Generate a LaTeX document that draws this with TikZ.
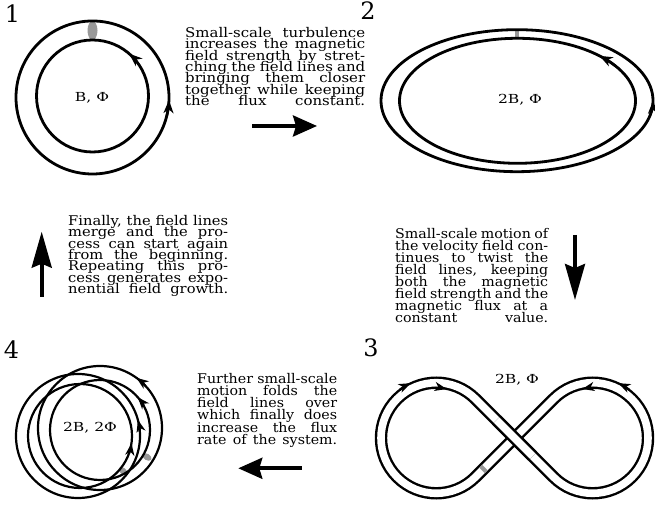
\documentclass[tikz,border=0pt]{standalone}
\usepackage{fontspec}
\setmainfont{DejaVu Serif}
\newfontfamily\fieldfont[FakeStretch=1.25]{DejaVu Serif}
\newfontfamily\storyfontwide[FakeStretch=1.12]{DejaVu Serif}
\newfontfamily\storyfontmid[FakeStretch=1.10]{DejaVu Serif}
\newfontfamily\storyfontnarrow[FakeStretch=1.065]{DejaVu Serif}
\usetikzlibrary{arrows.meta}
% justified text blocks, one hbox per printed line
\newcommand\storyblock[3]{\vbox{\hsize=#1\relax\baselineskip=#2\lineskiplimit=-100bp\lineskip=0bp #3}}
\newcommand\jl[1]{\hbox to\hsize{#1}}
\begin{document}
\begin{tikzpicture}[x=1bp,y=1bp,
  loopline/.style={line width=2.8bp},
  foldline/.style={line width=2.2bp},
  headtip/.style={line width=2.4bp,-{Stealth[length=13bp,width=10bp,inset=4bp]}},
  smalltip/.style={line width=2.2bp,-{Stealth[length=12bp,width=9bp,inset=3.5bp]}},
  stephoriz/.style={line width=3.6bp,-{Stealth[length=24bp,width=21bp,inset=3bp]}},
  stepvert/.style={line width=3.6bp,-{Stealth[length=36bp,width=20bp,inset=4bp]}},
  panelnum/.style={font=\fontsize{24}{24}\selectfont,inner sep=0bp},
  fieldlabel/.style={font=\fieldfont\fontsize{12.5}{12.5}\selectfont,inner sep=0bp},
  storytext/.style={inner sep=0bp,anchor=north west},
  graymark/.style={fill=black!40},
  fluxtube/.style={line width=2.4bp,double=white,double distance=7.6bp},
]
\useasboundingbox (0,0) rectangle (655,506);

% ---------- 1: closed flux ring ----------
\fill[graymark] (92.5,475.5) ellipse[x radius=5bp,y radius=9.5bp];
\draw[loopline] (92.5,408.5) circle[radius=76.5bp];
\draw[loopline] (92.5,410) circle[radius=56bp];
\draw[headtip] (92.5,410) ++(37:56bp) arc[start angle=37,end angle=49,radius=56bp];
\draw[headtip] (92.5,408.5) ++(-14:76.5bp) arc[start angle=-14,end angle=-2,radius=76.5bp];
\node[fieldlabel] (f1) at (92,408) {B, Φ};
\node[panelnum] (n1) at (12.5,492.5) {1};

% ---------- 2: stretched ring ----------
\fill[graymark] (515,467.5) rectangle (519,476.5);
\draw[loopline] (517,405.3) ellipse[x radius=136bp,y radius=71bp];
\draw[loopline] (517.5,405.2) ellipse[x radius=118bp,y radius=62.5bp];
\draw[headtip] (517.5,405.2) ++(34:118bp and 62.5bp) arc[start angle=34,end angle=46,x radius=118bp,y radius=62.5bp];
\draw[headtip] (517,405.3) ++(-12:136bp and 71bp) arc[start angle=-12,end angle=0,x radius=136bp,y radius=71bp];
\node[fieldlabel] (f2) at (520,406) {2B, Φ};
\node[panelnum] (n2) at (368,495) {2};

% ---------- 3: twisted figure eight ----------
\coordinate (lc) at (436.3,68);
\coordinate (rc) at (592.7,68);
\draw[fluxtube] (475.4,107.1) arc[start angle=45,end angle=315,radius=55.3bp]
  -- (553.6,107.1) arc[start angle=135,end angle=-135,radius=55.3bp] -- cycle;
% strand passing over at the crossing
\draw[fluxtube] (496.5,86) -- (532.5,50);
\fill[graymark,rotate around={45:(483.5,37)}] (481.5,33.2) rectangle (485.5,40.8);
\draw[smalltip] (lc) ++(127:60.5bp) arc[start angle=127,end angle=115,radius=60.5bp];
\draw[smalltip] (lc) ++(92:50.1bp) arc[start angle=92,end angle=78,radius=50.1bp];
\draw[smalltip] (rc) ++(53:60.5bp) arc[start angle=53,end angle=65,radius=60.5bp];
\draw[smalltip] (rc) ++(88:50.1bp) arc[start angle=88,end angle=102,radius=50.1bp];
\node[fieldlabel] (f3) at (517,126) {2B, Φ};
\node[panelnum] (n3) at (371,158) {3};

% ---------- 4: folded ring, two overlapping tubes ----------
\fill[graymark,rotate around={-39:(123,35)}] (123,35) ellipse[x radius=5bp,y radius=3.2bp];
\fill[graymark,rotate around={-31:(147,49)}] (147,49) ellipse[x radius=5bp,y radius=3.2bp];
\draw[foldline] (78,70) circle[radius=62bp];
\draw[foldline] (80,70) circle[radius=52bp];
\draw[foldline] (100,78) circle[radius=62bp];
\draw[foldline] (100,76) circle[radius=50bp];
\draw[smalltip] (80,70) ++(-20:52bp) arc[start angle=-20,end angle=-8,radius=52bp];
\draw[smalltip] (78,70) ++(4:62bp) arc[start angle=4,end angle=15,radius=62bp];
\draw[smalltip] (100,76) ++(29:50bp) arc[start angle=29,end angle=41,radius=50bp];
\draw[smalltip] (100,78) ++(43:62bp) arc[start angle=43,end angle=54,radius=62bp];
\node[fieldlabel] (f4) at (90,78) {2B, 2Φ};
\node[panelnum] (n4) at (11.5,156) {4};

% ---------- step arrows ----------
\coordinate (a12s) at (252,380);   \coordinate (a12e) at (317,380);
\coordinate (a23s) at (575,271);   \coordinate (a23e) at (575,206);
\coordinate (a34s) at (301.7,37.7); \coordinate (a34e) at (238.3,37.7);
\coordinate (a41s) at (41.7,209.3); \coordinate (a41e) at (41.7,274.3);
\draw[stephoriz] (a12s) -- (a12e);
\draw[stepvert] (a23s) -- (a23e);
\draw[stephoriz] (a34s) -- (a34e);
\draw[stepvert] (a41s) -- (a41e);

% ---------- explanations ----------
\node[storytext,font=\storyfontwide\fontsize{13.4}{11.5}\selectfont] (t12) at (185,479) {\storyblock{180bp}{11.4bp}{%
  \jl{Small-scale turbulence}
  \jl{increases the magnetic}
  \jl{field strength by stret-}
  \jl{ching the field lines and}
  \jl{bringing them closer}
  \jl{together while keeping}
  \jl{the flux constant.}}};
\node[storytext,font=\storyfontmid\fontsize{13.4}{11.5}\selectfont] (t41) at (68,291) {\storyblock{160bp}{11.4bp}{%
  \jl{Finally, the field lines}
  \jl{merge and the pro-}
  \jl{cess can start again}
  \jl{from the beginning.}
  \jl{Repeating this pro-}
  \jl{cess generates expo-}
  \jl{nential field growth.}}};
\node[storytext,font=\storyfontnarrow\fontsize{13.4}{11.5}\selectfont] (t23) at (395,278) {\storyblock{153bp}{12bp}{%
  \jl{Small-scale motion of}
  \jl{the velocity field con-}
  \jl{tinues to twist the}
  \jl{field lines, keeping}
  \jl{both the magnetic}
  \jl{field strength and the}
  \jl{magnetic flux at a}
  \jl{constant value.}}};
\node[storytext,font=\storyfontnarrow\fontsize{13.4}{11.5}\selectfont] (t34) at (197,133) {\storyblock{140bp}{12.2bp}{%
  \jl{Further small-scale}
  \jl{motion folds the}
  \jl{field lines over}
  \jl{which finally does}
  \jl{increase the flux}
  \jl{rate of the system.}}};
\end{tikzpicture}
\end{document}
